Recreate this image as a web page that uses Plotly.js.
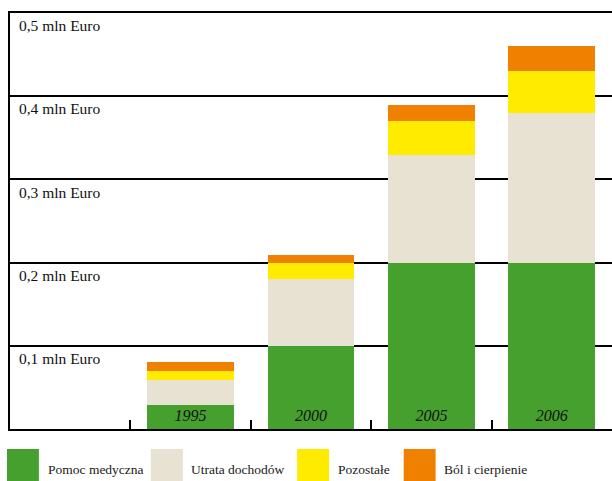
<!DOCTYPE html>
<html>
<head>
<meta charset="utf-8">
<script src="https://cdn.plot.ly/plotly-3.0.1.min.js"></script>
<style>html,body{margin:0;padding:0;background:#fff;}#chart{width:612px;height:481px;}</style>
</head>
<body>
<div id="chart"></div>
<script>
const categories = ["1995", "2000", "2005", "2006"];
const seriesNames = ["Pomoc medyczna", "Utrata dochodów", "Pozostałe", "Ból i cierpienie"];
const pomocMedyczna = [0.029, 0.100, 0.200, 0.200];
const utrataDochodow = [0.030, 0.080, 0.129, 0.180];
const pozostale = [0.011, 0.020, 0.041, 0.050];
const bolICierpienie = [0.010, 0.009, 0.019, 0.030];
const yTickVals = [0.1, 0.2, 0.3, 0.4, 0.5];
const yTickText = ["0,1 mln Euro", "0,2 mln Euro", "0,3 mln Euro", "0,4 mln Euro", "0,5 mln Euro"];

const colors = ["#46a02e", "#e8e2d2", "#ffeb00", "#f08000"];
const values = [pomocMedyczna, utrataDochodow, pozostale, bolICierpienie];
const serif = "Liberation Serif, serif";

const traces = values.map((v, i) => ({
  type: "bar",
  name: seriesNames[i],
  x: categories,
  y: v,
  marker: {color: colors[i], line: {width: 0}},
  hoverinfo: "skip",
  showlegend: false
}));

// legend built from the series names (position in paper coordinates)
const legendX = [-0.005, 0.234, 0.477, 0.654];
const shapes = [];
const annotations = [];
seriesNames.forEach((n, i) => {
  shapes.push({type: "rect", xref: "paper", yref: "paper",
    x0: legendX[i], x1: legendX[i] + 0.053, y0: -0.128, y1: -0.048,
    fillcolor: colors[i], line: {width: 0}});
  annotations.push({xref: "paper", yref: "paper", x: legendX[i] + 0.064, y: -0.097,
    xanchor: "left", yanchor: "middle", text: n, showarrow: false,
    font: {family: serif, size: 13.5, color: "#1a1a1a"}});
});

const layout = {
  width: 612, height: 481,
  margin: {l: 10, r: 0, t: 13, b: 52},
  paper_bgcolor: "#fff", plot_bgcolor: "#fff",
  font: {family: serif},
  barmode: "stack",
  bargap: 0.28,
  showlegend: false,
  xaxis: {
    type: "category", categoryarray: categories, range: [-1.5, 3.5],
    tickson: "boundaries", ticks: "inside", ticklen: 9, tickwidth: 2, tickcolor: "#000",
    showline: true, linewidth: 2, linecolor: "#000", mirror: true,
    showgrid: false, zeroline: false,
    ticklabelposition: "inside", ticklabelstandoff: -4,
    tickfont: {family: serif, size: 16, style: "italic", color: "#111"}
  },
  yaxis: {
    range: [0, 0.5], tickvals: yTickVals, ticktext: yTickText,
    ticks: "", showgrid: true, gridcolor: "#000", gridwidth: 2,
    showline: true, linewidth: 2, linecolor: "#000", zeroline: false,
    ticklabelposition: "inside bottom", ticklabelstandoff: 8, ticklabelshift: 2,
    tickfont: {family: serif, size: 15.5, color: "#111"}
  },
  shapes: shapes,
  annotations: annotations
};

Plotly.newPlot("chart", traces, layout, {displayModeBar: false, staticPlot: true});
</script>
</body>
</html>
